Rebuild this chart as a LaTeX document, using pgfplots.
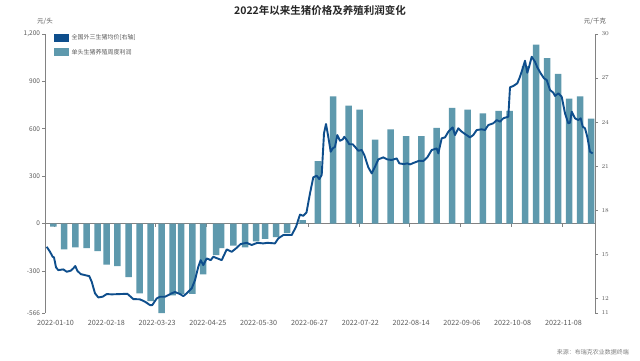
\documentclass[border=0pt]{standalone}
\usepackage{fontspec}
\setmainfont{Noto Sans CJK SC}[BoldFont={Noto Sans CJK SC Bold}]
\usepackage{pgfplots}
\pgfplotsset{compat=1.18}
\definecolor{linec}{RGB}{14,78,140}
\definecolor{barc}{RGB}{94,153,173}
\definecolor{axc}{RGB}{130,130,130}
\definecolor{txc}{RGB}{90,90,90}
\begin{document}
\begin{tikzpicture}
\path[use as bounding box, fill=white] (0pt,0pt) rectangle (640pt,-360pt);
\node[font=\bfseries\fontsize{10.5}{12}\selectfont, text=black!85] at (320pt,-10pt) {2022年以来生猪价格及养殖利润变化};
\node[font=\fontsize{6.5}{7}\selectfont, text=txc] at (45pt,-21pt) {元/头};
\node[font=\fontsize{6.5}{7}\selectfont, text=txc] at (595pt,-21pt) {元/千克};
\begin{axis}[at={(45pt,-313pt)}, anchor=south west, scale only axis,
  width=550pt, height=279pt,
  xmin=45, xmax=595, ymin=-566, ymax=1200,
  axis y line*=left, axis x line*=bottom,
  x axis line style={draw=none},
  y axis line style={-, axc, line width=0.7pt},
  ytick={-566,-300,0,300,600,900,1200},
  yticklabels={-566,-300,0,300,600,900,{1,200}},
  xtick={54,104.8,155.6,206.4,257.2,308,358.8,409.6,460.4,511.2,562},
  xticklabels={2022-01-10,2022-02-18,2022-03-23,2022-04-25,2022-05-30,2022-06-27,2022-07-22,2022-08-14,2022-09-06,2022-10-08,2022-11-08},
  x tick style={draw=none},
  y tick style={axc, line width=0.6pt},
  tick align=outside, major tick length=3pt,
  tick label style={font=\fontsize{6.5}{7}\selectfont, text=txc},
  xticklabel style={yshift=-1pt, xshift=1.5pt, font=\fontsize{7.2}{8}\selectfont},
  yticklabel style={xshift=1.5pt},
  clip=false]
\draw[axc, line width=0.6pt] (axis cs:45,0) -- (axis cs:595,0);
\draw[axc, line width=0.6pt] (axis cs:54,0) -- ++(0pt,-3pt) (axis cs:104.8,0) -- ++(0pt,-3pt) (axis cs:155.6,0) -- ++(0pt,-3pt) (axis cs:206.4,0) -- ++(0pt,-3pt) (axis cs:257.2,0) -- ++(0pt,-3pt) (axis cs:308,0) -- ++(0pt,-3pt) (axis cs:358.8,0) -- ++(0pt,-3pt) (axis cs:409.6,0) -- ++(0pt,-3pt) (axis cs:460.4,0) -- ++(0pt,-3pt) (axis cs:511.2,0) -- ++(0pt,-3pt) (axis cs:562,0) -- ++(0pt,-3pt);
\addplot[ybar, bar width=6.5, fill=barc, draw=none] coordinates {
(53.3,-20) (64.2,-164) (75.3,-150) (86.5,-156) (97.5,-175) (106.5,-259)
(117.3,-270) (128.5,-339) (139.5,-442) (150.7,-491) (161.7,-566) (172.5,-455)
(181.2,-445) (192.4,-445) (203.2,-322) (216,-200) (221,-155) (233.3,-140)
(245,-150) (256,-112) (265,-97) (276,-85) (287,-60) (302.7,22)
(317.8,396) (333.2,806) (348.5,746) (359.5,721) (375.2,532) (390.7,596)
(406,554) (421.3,554) (436.7,606) (452,732) (467.5,721) (482.8,697)
(498.5,714) (509.5,714) (525,996) (536,1132) (547,1048) (558,947)
(569,791) (580,806) (591,665)
};
\end{axis}
\begin{axis}[at={(45pt,-313pt)}, anchor=south west, scale only axis,
  width=550pt, height=279pt,
  xmin=45, xmax=595, ymin=11, ymax=30,
  axis y line*=right, hide x axis,
  y axis line style={-, axc, line width=0.7pt},
  ytick={11,12,15,18,21,24,27,30},
  y tick style={axc, line width=0.6pt},
  tick align=outside, major tick length=3pt,
  tick label style={font=\fontsize{6.5}{7}\selectfont, text=txc},
  clip=false]
\addplot[linec, line width=1.9pt, line join=round, mark=none] coordinates {
(46.7,15.51) (50,15.17) (52.7,14.83) (54,14.79) (56,14.11) (58.3,13.92)
(63.3,13.97) (66.7,13.81) (70.7,13.88) (73.3,14.04) (75.3,14.20) (77.3,13.88)
(80.7,13.65) (85,13.58) (89.3,13.51) (91.7,13.13) (95,12.34) (98.3,12.06)
(102.7,12.11) (106.7,12.29) (111.7,12.27) (120,12.29) (127.3,12.31) (130,12.15)
(133.3,11.95) (140,11.93) (145,11.77) (150,11.54) (152.3,11.54) (156.7,11.99)
(160,12.11) (165,12.11) (171.7,12.34) (175,12.43) (180,12.29) (183.3,12.15)
(186.7,12.34) (191.7,12.68) (195,13.24) (198.3,14.15) (200.7,14.60) (203.3,14.26)
(206.7,14.72) (210.7,14.60) (213.3,14.83) (217.3,14.72) (221.7,14.60) (226.7,15.33)
(231.7,15.17) (236,15.40) (240.7,15.70) (246.7,15.78) (251.7,15.63) (257.3,15.78)
(263.3,15.74) (267.3,15.78) (275,15.74) (278.3,16.08) (283.3,16.31) (291.7,16.31)
(296,16.87) (300,17.70) (303.3,17.62) (306.5,17.85) (310,19.15) (313.3,20.24)
(316.7,20.35) (319.3,20.12) (321.7,20.40) (324,23.24) (326,23.87) (328.3,23.00)
(330.7,21.98) (332.7,22.21) (335,22.32) (337.3,23.12) (340,22.73) (342.7,22.82)
(344.3,23.00) (346.7,22.78) (349.3,22.49) (352.7,22.49) (355,22.32) (358.3,22.05)
(361.7,22.10) (364.3,21.76) (368.3,20.92) (371.7,20.51) (375,20.96) (378.3,21.46)
(383.3,21.60) (387.3,21.46) (391.7,21.42) (396.7,21.53) (399.3,21.19) (404,21.14)
(407.3,21.19) (410,21.12) (415,21.26) (419.3,21.37) (423.3,21.35) (427.3,21.60)
(431.7,22.10) (436.7,22.21) (438.3,21.87) (441.7,22.90) (445,22.96) (448.3,23.34)
(450,23.46) (452.7,23.64) (455,23.12) (458.3,23.58) (461.7,23.35) (465,23.19)
(470,22.96) (473.3,23.12) (476.7,23.46) (481.7,23.51) (485,23.46) (488.3,23.80)
(493.3,23.92) (496.7,24.14) (500,24.03) (503.3,24.26) (508.3,24.37) (510,26.37)
(513.3,26.46) (517.3,26.64) (520,27.09) (522.7,27.66) (525,28.18) (527.3,27.36)
(529.3,27.82) (531.7,28.45) (535,28.11) (537.3,27.73) (540.7,27.32) (544,26.98)
(546.7,26.87) (550,26.19) (553.3,26.00) (555,25.78) (558.3,25.96) (561.7,25.73)
(565,24.60) (568.3,23.92) (570,23.96) (571.7,24.71) (575,24.26) (578.3,24.14)
(580.7,24.26) (582.7,23.69) (585,23.58) (587.3,23.00) (590,21.98) (592.7,21.87)
};
\end{axis}
\fill[linec] (54pt,-34pt) rectangle (68.5pt,-41.7pt);
\node[anchor=west, font=\fontsize{6}{7}\selectfont, text=txc, inner sep=0pt] at (71.5pt,-37.9pt) {全国外三生猪均价[右轴]};
\fill[barc] (54pt,-48.3pt) rectangle (68.5pt,-55.5pt);
\node[anchor=west, font=\fontsize{6}{7}\selectfont, text=txc, inner sep=0pt] at (71.5pt,-51.9pt) {单头生猪养殖周度利润};
\node[anchor=east, font=\fontsize{6}{7}\selectfont, text=gray, inner sep=0pt] at (629pt,-352.5pt) {来源：布瑞克农业数据终端};
\end{tikzpicture}
\end{document}
